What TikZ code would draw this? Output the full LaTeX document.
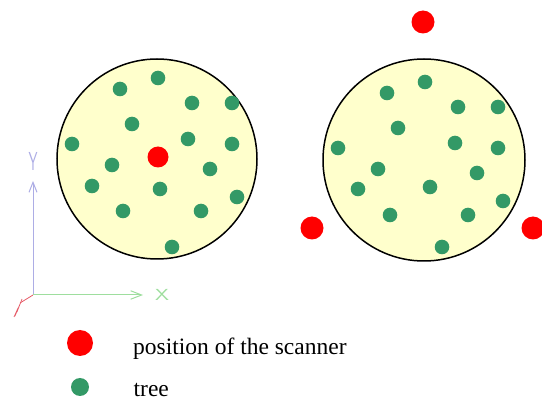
\documentclass[tikz,border=0pt]{standalone}
\usepackage{fontspec}
\setmainfont{Liberation Serif}
\usetikzlibrary{arrows.meta,calc}
\usepackage{tkz-euclide}
\definecolor{TreeClr}{rgb}{0.2,0.6,0.4}
\definecolor{ScanClr}{rgb}{1,0,0}
\definecolor{FieldClr}{rgb}{1,1,0.8}
\definecolor{YAxisClr}{rgb}{0.68,0.68,0.9}
\definecolor{XAxisClr}{rgb}{0.62,0.87,0.62}
\definecolor{ZAxisClr}{rgb}{0.9,0.35,0.4}

\begin{document}
\begin{tikzpicture}[x=1pt,y=-1pt]
\useasboundingbox (0,0) rectangle (542,401);

\tkzDefPoints{157/159/L,424/160/R}
\tkzDefPoints{158/157/S0,423/22/S1,312/228/S2,533/228/S3}
\tkzDefPoints{33/295/O,33/181/Yt,143/295/Xt,20/303/Zt}
\tkzDefPoints{80/343/LS,80/387/LT}

\tkzDefPoints{158/78/a1,120/89/a2,192/103/a3,232/103/a4,132/124/a5,72/144/a6,188/139/a7,232/144/a8}
\tkzDefPoints{112/165/a9,210/169/a10,92/186/a11,160/189/a12,237/197/a13,123/211/a14,201/211/a15,172/247/a16}
\tkzDefPoints{425/82/b1,387/93/b2,458/107/b3,498/107/b4,398/128/b5,338/148/b6,455/143/b7,498/148/b8}
\tkzDefPoints{378/169/b9,477/173/b10,358/189/b11,430/187/b12,503/201/b13,390/215/b14,468/215/b15,442/247/b16}

\filldraw[fill=FieldClr,draw=black,line width=1.5pt] (L) circle (100);
\filldraw[fill=FieldClr,draw=black,line width=1.5pt] (R) circle (101);

\foreach \t in {a1,a2,a3,a4,a5,a6,a7,a8,a9,a10,a11,a12,a13,a14,a15,a16,b1,b2,b3,b4,b5,b6,b7,b8,b9,b10,b11,b12,b13,b14,b15,b16}
  \fill[TreeClr] (\t) circle (7.3);

\fill[ScanClr] (S0) circle (10.5);
\fill[ScanClr] (S1) circle (11.5);
\fill[ScanClr] (S2) circle (11.5);
\fill[ScanClr] (S3) circle (11.5);

\draw[YAxisClr,line width=1pt,-{Straight Barb[length=10pt,width=8pt]}] (O) -- (Yt);
\draw[XAxisClr,line width=1pt,-{Straight Barb[length=11pt,width=8.5pt]}] (O) -- (Xt);
\draw[ZAxisClr,line width=0.8pt] (O) -- (Zt);
\draw[ZAxisClr,line width=0.7pt,line join=round] (22,299) -- (17,312) -- (20,304) -- (15,316) -- (18,308) -- (14,317);
\node[YAxisClr,font=\fontsize{26}{26}\sffamily,inner sep=0] (ylab) at (33,161) {\scalebox{0.55}[1]{Y}};
\node[XAxisClr,font=\fontsize{16}{16}\sffamily,inner sep=0] (xlab) at (162,295) {\scalebox{1.4}[1]{X}};

\fill[ScanClr] (LS) circle (13);
\fill[TreeClr] (LT) circle (9);
\node[anchor=base west,inner sep=0,font=\fontsize{23.5}{28}\selectfont] (scantxt) at (133,355) {position of the scanner};
\node[anchor=base west,inner sep=0,font=\fontsize{23.5}{28}\selectfont] (treetxt) at (133.5,397) {tree};

\end{tikzpicture}
\end{document}
